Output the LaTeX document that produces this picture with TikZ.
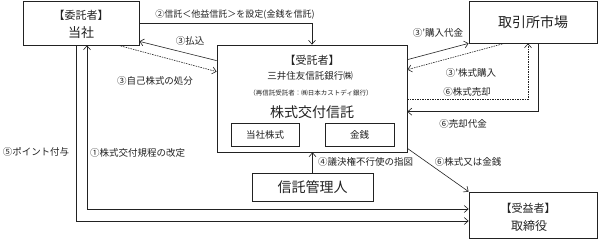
\documentclass[tikz,border=0pt]{standalone}
\usepackage{fontspec}
\setmainfont{Noto Sans CJK JP}
\usetikzlibrary{arrows.meta}
\definecolor{ink}{HTML}{222222}
\begin{document}
\begin{tikzpicture}[x=1pt,y=-1pt,
  box/.style={draw=ink,line width=0.7pt,inner sep=0pt},
  lab/.style={inner sep=0pt,text=ink,font=\fontsize{9.5}{11}\selectfont},
  arr/.style={draw=ink,line width=0.6pt,-{Straight Barb[length=4pt,width=7pt]}},
  darr/.style={draw=ink,line width=0.6pt,{Straight Barb[length=4pt,width=7pt]}-{Straight Barb[length=4pt,width=7pt]}},
  dsh/.style={arr,dash pattern=on 1.5pt off 1pt}]
\useasboundingbox[fill=white] (0,0) rectangle (598,239);
% boxes
\node[box,minimum width=116pt,minimum height=44pt] (itaku) at (81,23) {};
\node[box,minimum width=128pt,minimum height=42pt] (torihiki) at (533,22) {};
\node[box,minimum width=190pt,minimum height=107pt] (jutaku) at (312,98.5) {};
\node[box,minimum width=68pt,minimum height=23pt] (kabu) at (265,134.5) {};
\node[box,minimum width=69pt,minimum height=23pt] (kinsen) at (359.5,134.5) {};
\node[box,minimum width=121pt,minimum height=28pt] (kanri) at (312.5,187) {};
\node[box,minimum width=128pt,minimum height=46pt] (jueki) at (533,215) {};
% box texts
\node[lab,font=\fontsize{11}{13}\selectfont] (t1) at (81,15) {【委託者】};
\node[lab,font=\fontsize{13}{15}\selectfont] (t2) at (81,33) {当社};
\node[lab,font=\fontsize{14}{16}\selectfont] (t3) at (533,22) {取引所市場};
\node[lab,font=\fontsize{11}{13}\selectfont] (t4) at (312,60) {【受託者】};
\node[lab,font=\fontsize{9.5}{11}\selectfont] (t5) at (310,76) {三井住友信託銀行㈱};
\node[lab,font=\fontsize{6.5}{8}\selectfont] (t6) at (311,93) {（再信託受託者：㈱日本カストディ銀行）};
\node[lab,font=\fontsize{14}{16}\selectfont] (t7) at (312,112) {株式交付信託};
\node[lab] (t8) at (265,134.5) {当社株式};
\node[lab] (t9) at (359.5,134.5) {金銭};
\node[lab,font=\fontsize{14}{16}\selectfont] (t10) at (312.5,187) {信託管理人};
\node[lab,font=\fontsize{11}{13}\selectfont] (t11) at (528,208) {【受益者】};
\node[lab,font=\fontsize{12}{14}\selectfont] (t12) at (529,226) {取締役};
% connectors
\draw[arr] (itaku.east) -| (jutaku.north);
\draw[arr] ([yshift=-16pt]jutaku.north west) -- ([yshift=4pt]itaku.south east);
\draw[dsh] ([xshift=-21pt]itaku.south east) -- ([yshift=-27pt]jutaku.north west);
\draw[arr] ([yshift=-15pt]jutaku.north east) -- (torihiki.south west);
\draw[dsh] ([xshift=36pt]torihiki.south west) -- ([yshift=-25pt]jutaku.north east);
\draw[dsh] ([yshift=-55pt]jutaku.north east) -| ([xshift=-5pt]torihiki.south);
\draw[arr] ([xshift=5pt]torihiki.south) |- ([yshift=-67pt]jutaku.north east);
\draw[arr] ([yshift=4pt]jutaku.south east) -- (jueki.north west);
\draw[arr] (kanri.north) -- (kanri.north |- jutaku.south);
\draw[arr] ([xshift=-5pt]itaku.south) |- ([yshift=-6pt]jueki.west);
\draw[darr] ([xshift=6pt]itaku.south) |- ([yshift=6pt]jueki.west);
% labels
\node[lab,font=\fontsize{9}{11}\selectfont] (l2) at (235,15) {②信託＜他益信託＞を設定(金銭を信託)};
\node[lab] (l3a) at (190,41) {③払込};
\node[lab] (l3b) at (155,81) {③自己株式の処分};
\node[lab] (l3c) at (438,33) {③'購入代金};
\node[lab] (l3d) at (471,73) {③'株式購入};
\node[lab] (l6a) at (467,92) {⑥株式売却};
\node[lab] (l6b) at (463,124) {⑥売却代金};
\node[lab] (l6c) at (468,162) {⑥株式又は金銭};
\node[lab,anchor=west] (l4) at (318,162) {④議決権不行使の指図};
\node[lab] (l5) at (36,152) {⑤ポイント付与};
\node[lab,anchor=west] (l1) at (90,153) {①株式交付規程の改定};
\end{tikzpicture}
\end{document}
